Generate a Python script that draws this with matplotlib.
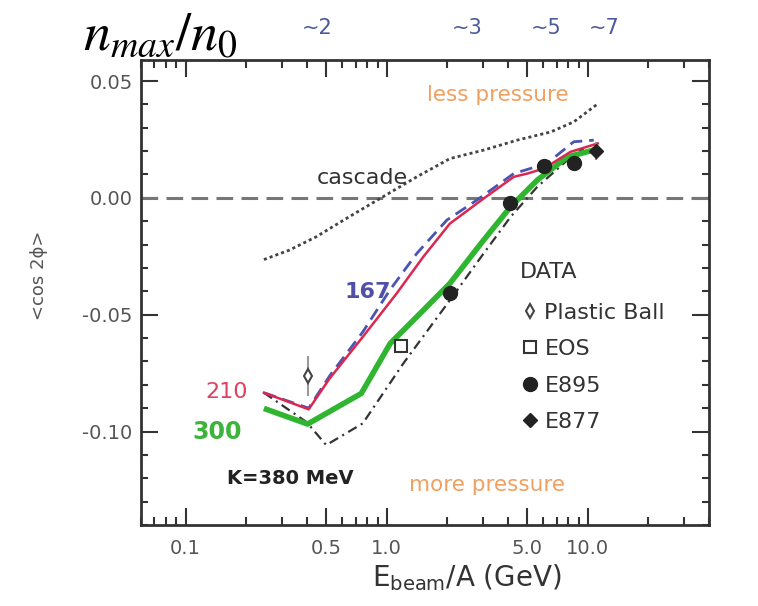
import matplotlib
matplotlib.use("Agg")
import matplotlib.pyplot as plt
from matplotlib.lines import Line2D
from matplotlib.ticker import LogLocator, MultipleLocator, NullFormatter, FixedLocator, FixedFormatter
import matplotlib.transforms as mtransforms

plt.rcParams['font.family'] = ['DejaVu Sans']
plt.rcParams['mathtext.fontset'] = 'dejavusans'
plt.rcParams['lines.scale_dashes'] = False

# model curves, E_beam/A (GeV) vs <cos 2phi>
x_cascade = [0.245, 0.327, 0.445, 0.65, 0.955, 1.41, 2.06, 3.02, 4.45, 6.53, 8.5, 11.3]
y_cascade = [-0.0264, -0.0224, -0.0167, -0.0081, 0.0004, 0.0090, 0.0168, 0.0204, 0.0247, 0.0282, 0.0325, 0.0405]

x_210 = [0.245, 0.409, 0.52, 0.76, 1.12, 1.52, 2.06, 3.03, 4.28, 5.0, 6.05, 8.2, 11.2]
y_210 = [-0.0834, -0.0905, -0.0773, -0.0595, -0.0409, -0.0252, -0.0110, -0.0003, 0.0090, 0.0104, 0.0126, 0.0197, 0.0233]

x_167 = [0.245, 0.409, 0.52, 0.76, 1.035, 1.41, 1.99, 2.8, 4.28, 6.25, 8.5, 10.7]
y_167 = [-0.0834, -0.0900, -0.0762, -0.0574, -0.0395, -0.0238, -0.0095, -0.0010, 0.0104, 0.0147, 0.0240, 0.0247]

x_300 = [0.245, 0.404, 0.747, 1.04, 1.41, 2.06, 3.03, 4.13, 5.6, 7.9, 11.4]
y_300 = [-0.0901, -0.0968, -0.0837, -0.0623, -0.0509, -0.0366, -0.0181, -0.0038, 0.0076, 0.0175, 0.0211]

x_380 = [0.245, 0.40, 0.50, 0.76, 1.21, 2.06, 3.03, 4.13, 5.6, 7.9, 9.5]
y_380 = [-0.0834, -0.0960, -0.1058, -0.0965, -0.0708, -0.0438, -0.0238, -0.0081, 0.0047, 0.0161, 0.0211]

# experimental data
x_pb, y_pb, e_pb = [0.404], [-0.0763], [0.0085]
x_eos, y_eos = [1.18], [-0.0634]
x_e895, y_e895 = [2.06, 4.09, 6.05, 8.5], [-0.0409, -0.0021, 0.0136, 0.0150]
x_e877, y_e877, e_e877 = [10.97], [0.0201], [0.004]

top_labels = ['~2', '~3', '~5', '~7']
top_x = [0.45, 2.5, 6.2, 12.0]

fig = plt.figure(figsize=(7.58, 6.06), dpi=100)
ax = fig.add_axes([141 / 758, 1 - 525 / 606, 568 / 758, 465 / 606])
ax.set_xscale('log')
ax.set_xlim(0.06, 40)
ax.set_ylim(-0.14, 0.059)

ax.axhline(0, color='#777777', lw=2.2, dashes=(12, 6))
ax.plot(x_cascade, y_cascade, color='#444444', lw=2.0, dashes=(2.2, 2.2))
ax.plot(x_380, y_380, color='#333333', lw=1.6, dashes=(7, 3.5, 1.5, 3.5))
ax.plot(x_167, y_167, color='#4a55b0', lw=2.0, dashes=(9, 5))
ax.plot(x_300, y_300, color='#2fb52f', lw=4.0, solid_capstyle='butt')
ax.plot(x_210, y_210, color='#dc2850', lw=1.8)

ax.errorbar(x_pb, y_pb, yerr=e_pb, fmt='d', ms=7, mfc='white', mec='#444444', mew=1.5,
            ecolor='#999999', elinewidth=1.5, capsize=0)
ax.plot(x_eos, y_eos, 's', ms=8, mfc='white', mec='#333333', mew=1.5)
ax.plot(x_e895, y_e895, 'o', ms=10, color='#222222')
ax.errorbar(x_e877, y_e877, yerr=e_e877, fmt='D', ms=7, color='#222222',
            ecolor='#888888', elinewidth=1.5, capsize=0)

handles = [
    Line2D([], [], ls='none', marker='d', ms=7, mfc='white', mec='#444444', mew=1.5),
    Line2D([], [], ls='none', marker='s', ms=8, mfc='white', mec='#333333', mew=1.5),
    Line2D([], [], ls='none', marker='o', ms=10, color='#222222'),
    Line2D([], [], ls='none', marker='D', ms=7, color='#222222'),
]
leg = ax.legend(handles, ['Plastic Ball', 'EOS', 'E895', 'E877'],
                loc='upper left', bbox_to_anchor=(0.673, 0.478), frameon=False,
                fontsize=16, handlelength=0.6, handletextpad=0.35,
                labelspacing=0.74, borderpad=0, borderaxespad=0)
for t in leg.get_texts():
    t.set_color('#333333')
ax.text(0.717, 0.544, 'DATA', transform=ax.transAxes, color='#333333', fontsize=16,
        ha='center', va='center')

ax.text(3.55, 0.0439, 'less pressure', color='#f0a060', fontsize=15.5, ha='center', va='center')
ax.text(3.16, -0.123, 'more pressure', color='#f0a060', fontsize=15.5, ha='center', va='center')
ax.text(0.76, 0.0084, 'cascade', color='#333333', fontsize=16, ha='center', va='center')
ax.text(0.80, -0.0403, '167', color='#5050a8', fontsize=16, fontweight='bold', ha='center', va='center')
ax.text(0.16, -0.083, '210', color='#e04060', fontsize=16, ha='center', va='center')
ax.text(0.143, -0.100, '300', color='#3cb43c', fontsize=17, fontweight='bold', ha='center', va='center')
ax.text(0.33, -0.120, 'K=380 MeV', color='#222222', fontsize=14, fontweight='bold', ha='center', va='center')

# n_max/n_0 labels above the frame
trans = mtransforms.blended_transform_factory(ax.transData, fig.transFigure)
for lab, xv in zip(top_labels, top_x):
    ax.text(xv, 0.953, lab, transform=trans, color='#4a5a9a', fontsize=15, ha='center', va='center')
fig.text(0.211, 0.942, r'$n_{max}/n_0$', fontsize=39, ha='center', va='center', math_fontfamily='stix')

# ticks
ax.xaxis.set_major_locator(FixedLocator([0.1, 0.5, 1.0, 5.0, 10.0]))
ax.xaxis.set_major_formatter(FixedFormatter(['0.1', '0.5', '1.0', '5.0', '10.0']))
ax.xaxis.set_minor_locator(LogLocator(base=10, subs=[2, 3, 4, 6, 7, 8, 9], numticks=20))
ax.xaxis.set_minor_formatter(NullFormatter())
ax.yaxis.set_major_locator(FixedLocator([-0.10, -0.05, 0.0, 0.05]))
ax.yaxis.set_major_formatter(FixedFormatter(['-0.10', '-0.05', '0.00', '0.05']))
ax.yaxis.set_minor_locator(MultipleLocator(0.01))
ax.tick_params(which='both', direction='in', top=True, right=True, color='#333333',
               labelsize=14, labelcolor='#555555', width=1.5)
ax.tick_params(axis='y', which='major', length=12, pad=6)
ax.tick_params(axis='y', which='minor', length=5)
ax.tick_params(axis='x', which='major', length=12, pad=10)
ax.tick_params(axis='x', which='minor', length=6)
for s in ax.spines.values():
    s.set_linewidth(2)
    s.set_color('#333333')

ax.set_xlabel(r'E$_{\mathrm{beam}}$/A (GeV)', fontsize=20, color='#333333')
ax.xaxis.set_label_coords((467 - 141) / 568, (525 - 562) / 465)
ax.set_ylabel('<cos 2ϕ>', fontsize=13, color='#555555')
ax.yaxis.set_label_coords((48 - 141) / 568, (525 - 275) / 465)

fig.savefig('out.png', dpi=100)
